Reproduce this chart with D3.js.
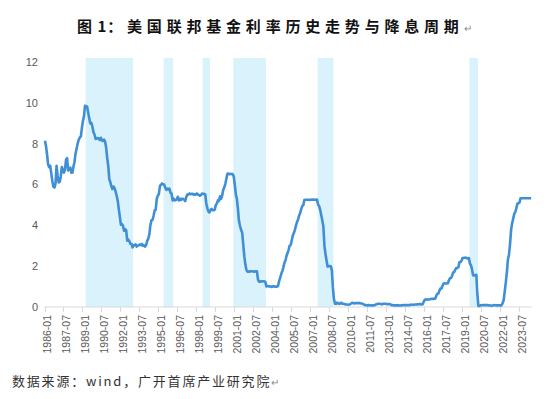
<!DOCTYPE html>
<html>
<head>
<meta charset="utf-8">
<script src="https://cdn.jsdelivr.net/npm/d3@7"></script>
<style>
  body { margin: 0; background: #fff; }
  #chart svg { display: block; }
</style>
</head>
<body>
<div id="chart"></div>
<script>
// Monthly effective federal funds rate (%), 1986-01 .. 2024-06
const startMonth = "1986-01";
const rates = [
  8.14, 7.86, 7.48, 6.99, 6.85, 6.92, 6.56, 6.17, 5.89, 5.85, 6.04, 6.91,
  6.43, 6.10, 6.13, 6.37, 6.85, 6.73, 6.58, 6.73, 7.22, 7.29, 6.69, 6.77,
  6.83, 6.58, 6.58, 6.87, 7.09, 7.51, 7.75, 8.01, 8.19, 8.30, 8.35, 8.76,
  9.12, 9.36, 9.85, 9.84, 9.81, 9.53, 9.24, 8.99, 9.02, 8.84, 8.55, 8.45,
  8.23, 8.24, 8.28, 8.26, 8.18, 8.29, 8.15, 8.13, 8.20, 8.11, 7.81, 7.31,
  6.91, 6.25, 6.12, 5.91, 5.78, 5.90, 5.82, 5.66, 5.45, 5.21, 4.81, 4.43,
  4.03, 4.06, 3.98, 3.73, 3.82, 3.76, 3.25, 3.30, 3.22, 3.10, 3.09, 2.92,
  3.02, 3.03, 3.07, 2.96, 3.00, 3.04, 3.06, 3.03, 3.09, 2.99, 3.02, 2.96,
  3.05, 3.25, 3.34, 3.56, 4.01, 4.25, 4.26, 4.47, 4.73, 4.76, 5.29, 5.45,
  5.53, 5.92, 5.98, 6.05, 6.01, 6.00, 5.85, 5.74, 5.80, 5.76, 5.80, 5.60,
  5.56, 5.22, 5.31, 5.22, 5.24, 5.27, 5.40, 5.22, 5.30, 5.24, 5.31, 5.29,
  5.25, 5.19, 5.39, 5.51, 5.50, 5.56, 5.52, 5.54, 5.54, 5.50, 5.52, 5.50,
  5.56, 5.51, 5.49, 5.45, 5.49, 5.56, 5.54, 5.55, 5.51, 5.07, 4.83, 4.68,
  4.63, 4.76, 4.81, 4.74, 4.74, 4.76, 4.99, 5.07, 5.22, 5.20, 5.42, 5.30,
  5.45, 5.73, 5.85, 6.02, 6.27, 6.53, 6.54, 6.50, 6.52, 6.51, 6.51, 6.40,
  5.98, 5.49, 5.31, 4.80, 4.21, 3.97, 3.77, 3.65, 3.07, 2.49, 2.09, 1.82,
  1.73, 1.74, 1.73, 1.75, 1.75, 1.75, 1.73, 1.74, 1.75, 1.75, 1.34, 1.24,
  1.24, 1.26, 1.25, 1.26, 1.26, 1.22, 1.01, 1.03, 1.01, 1.01, 1.00, 0.98,
  1.00, 1.01, 1.00, 1.00, 1.00, 1.03, 1.26, 1.43, 1.61, 1.76, 1.93, 2.16,
  2.28, 2.50, 2.63, 2.79, 3.00, 3.04, 3.26, 3.50, 3.62, 3.78, 4.00, 4.16,
  4.29, 4.49, 4.59, 4.79, 4.94, 4.99, 5.24, 5.25, 5.25, 5.25, 5.25, 5.24,
  5.25, 5.26, 5.26, 5.25, 5.25, 5.25, 5.26, 5.02, 4.94, 4.76, 4.49, 4.24,
  3.94, 2.98, 2.61, 2.28, 1.98, 2.00, 2.01, 2.00, 1.81, 0.97, 0.39, 0.16,
  0.15, 0.22, 0.18, 0.15, 0.18, 0.21, 0.16, 0.16, 0.15, 0.12, 0.12, 0.12,
  0.11, 0.13, 0.16, 0.20, 0.20, 0.18, 0.18, 0.19, 0.19, 0.19, 0.19, 0.18,
  0.17, 0.16, 0.14, 0.10, 0.09, 0.09, 0.07, 0.10, 0.08, 0.07, 0.08, 0.07,
  0.08, 0.10, 0.13, 0.14, 0.16, 0.16, 0.16, 0.13, 0.14, 0.16, 0.16, 0.16,
  0.14, 0.15, 0.14, 0.15, 0.11, 0.09, 0.09, 0.08, 0.08, 0.09, 0.08, 0.09,
  0.07, 0.07, 0.08, 0.09, 0.09, 0.10, 0.09, 0.09, 0.09, 0.09, 0.09, 0.12,
  0.11, 0.11, 0.11, 0.12, 0.12, 0.13, 0.13, 0.14, 0.14, 0.12, 0.12, 0.24,
  0.34, 0.38, 0.36, 0.37, 0.37, 0.38, 0.39, 0.40, 0.40, 0.40, 0.41, 0.54,
  0.65, 0.66, 0.79, 0.90, 0.91, 1.04, 1.15, 1.16, 1.15, 1.15, 1.16, 1.30,
  1.41, 1.42, 1.51, 1.69, 1.70, 1.82, 1.91, 1.91, 1.95, 2.19, 2.20, 2.27,
  2.40, 2.40, 2.41, 2.42, 2.39, 2.38, 2.40, 2.13, 2.04, 1.83, 1.55, 1.55,
  1.55, 1.58, 0.65, 0.05, 0.05, 0.08, 0.09, 0.10, 0.09, 0.09, 0.09, 0.09,
  0.09, 0.08, 0.07, 0.07, 0.06, 0.08, 0.10, 0.09, 0.08, 0.08, 0.08, 0.08,
  0.08, 0.08, 0.20, 0.33, 0.77, 1.21, 1.68, 2.33, 2.56, 3.08, 3.78, 4.10,
  4.33, 4.57, 4.65, 4.83, 5.06, 5.08, 5.12, 5.33, 5.33, 5.33, 5.33, 5.33,
  5.33, 5.33, 5.33, 5.33, 5.33, 5.33
];

// Rate-cut cycles (shaded), start and end month
const cutStarts = ["1989-04", "1995-06", "1998-07", "2000-12", "2007-08", "2019-08"];
const cutEnds   = ["1993-01", "1996-03", "1999-02", "2003-07", "2008-11", "2020-04"];

// x-axis labels: every 18 months
const xTickLabels = [
  "1986-01", "1987-07", "1989-01", "1990-07", "1992-01", "1993-07", "1995-01",
  "1996-07", "1998-01", "1999-07", "2001-01", "2002-07", "2004-01", "2005-07",
  "2007-01", "2008-07", "2010-01", "2011-07", "2013-01", "2014-07", "2016-01",
  "2017-07", "2019-01", "2020-07", "2022-01", "2023-07"
];
const yTicks = [0, 2, 4, 6, 8, 10, 12];

const titlePrefix = "图 1";
const titleText = "：美国联邦基金利率历史走势与降息周期";
const sourceText = "数据来源：wind，广开首席产业研究院";

const W = 550, H = 399;
const parseMonth = d3.timeParse("%Y-%m");
const t0 = parseMonth(startMonth);
const data = rates.map((v, i) => ({ date: d3.timeDay.offset(d3.timeMonth.offset(t0, i), 14), value: v }));

const svg = d3.select("#chart").append("svg")
  .attr("width", W)
  .attr("height", H);

// scales
const x = d3.scaleTime()
  .domain([parseMonth("1986-01"), parseMonth("2023-07")])
  .range([44.5, 519]);
const y = d3.scaleLinear()
  .domain([0, 12])
  .range([307, 62]);

// shaded cut cycles
svg.append("g").selectAll("rect")
  .data(d3.zip(cutStarts, cutEnds))
  .enter()
  .append("rect")
  .attr("x", d => x(parseMonth(d[0])))
  .attr("width", d => x(parseMonth(d[1])) - x(parseMonth(d[0])))
  .attr("y", y(12.2))
  .attr("height", y(0) - y(12.2))
  .style("fill", "#daf2fc");

// y labels (no axis line)
svg.append("g").selectAll("text")
  .data(yTicks)
  .enter()
  .append("text")
  .attr("x", 38)
  .attr("y", d => y(d))
  .attr("dy", "0.35em")
  .attr("text-anchor", "end")
  .style("font", "11px 'Liberation Sans', Arial, sans-serif")
  .style("fill", "#595959")
  .text(d => d);

// x axis
const xAxisEnd = x(parseMonth("2024-07"));
const gx = svg.append("g");
gx.append("line")
  .attr("x1", x.range()[0]).attr("x2", xAxisEnd)
  .attr("y1", y(0)).attr("y2", y(0))
  .style("stroke", "#d9d9d9")
  .style("stroke-width", 1);
gx.selectAll(".tick")
  .data(xTickLabels)
  .enter()
  .append("line")
  .attr("class", "tick")
  .attr("x1", d => Math.round(x(parseMonth(d))) + 0.5)
  .attr("x2", d => Math.round(x(parseMonth(d))) + 0.5)
  .attr("y1", y(0))
  .attr("y2", y(0) + 5)
  .style("stroke", "#d9d9d9");
gx.selectAll(".lbl")
  .data(xTickLabels)
  .enter()
  .append("text")
  .attr("class", "lbl")
  .attr("transform", d => `translate(${x(parseMonth(d)) + 3},${y(0) + 8}) rotate(-90)`)
  .attr("dy", "0.35em")
  .attr("text-anchor", "end")
  .style("font", "10.5px 'Liberation Sans', Arial, sans-serif")
  .style("fill", "#595959")
  .text(d => d);

// rate line
svg.append("path")
  .datum(data)
  .attr("d", d3.line().x(d => x(d.date)).y(d => y(d.value)))
  .style("fill", "none")
  .style("stroke", "#3f8fd6")
  .style("stroke-width", 2.6)
  .style("stroke-linejoin", "round");

// title
const title = svg.append("text")
  .attr("x", 77)
  .attr("y", 32)
  .style("font-family", "'Noto Sans CJK SC', sans-serif")
  .style("font-size", "15px")
  .style("font-weight", 700)
  .style("fill", "#111");
title.append("tspan")
  .style("letter-spacing", "1px")
  .text(titlePrefix);
title.append("tspan")
  .style("letter-spacing", "4.8px")
  .text(titleText);
title.append("tspan")
  .style("font-size", "10px")
  .style("font-weight", 400)
  .style("fill", "#888")
  .style("letter-spacing", "0px")
  .text("↵");

// source
const source = svg.append("text")
  .attr("x", 12)
  .attr("y", 386)
  .style("font-family", "'Noto Sans CJK SC', sans-serif")
  .style("font-size", "13px")
  .style("letter-spacing", "1.8px")
  .style("fill", "#333");
source.append("tspan").text(sourceText);
source.append("tspan")
  .style("font-size", "10px")
  .style("fill", "#888")
  .style("letter-spacing", "0px")
  .text("↵");
</script>
</body>
</html>
